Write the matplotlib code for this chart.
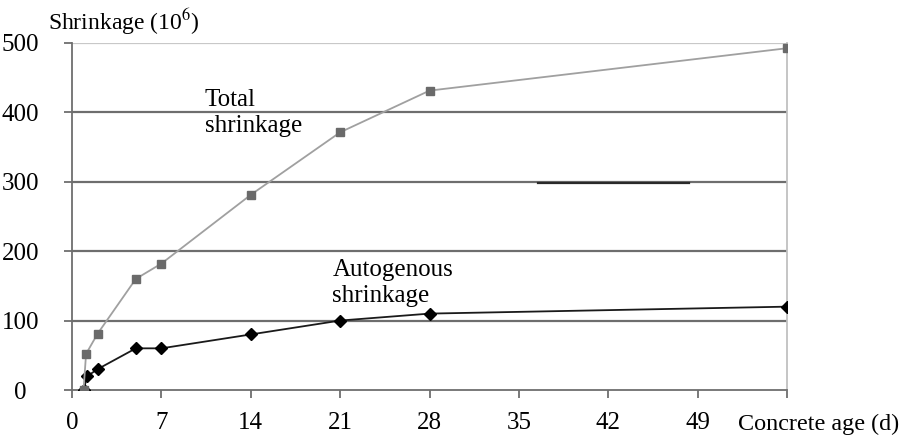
import matplotlib.pyplot as plt

plt.rcParams['font.family'] = ['Liberation Serif', 'DejaVu Serif']
plt.rcParams['mathtext.fontset'] = 'stix'

# data
total_days = [0.9, 1.1, 2, 5, 7, 14, 21, 28, 56]
total_vals = [0, 52, 81, 160, 182, 281, 371, 431, 492]
auto_days = [0.9, 1.2, 2, 5, 7, 14, 21, 28, 56]
auto_vals = [0, 20, 30, 60, 60, 80, 100, 110, 120]
x_ticks = [0, 7, 14, 21, 28, 35, 42, 49, 56]
x_labels = ['0', '7', '14', '21', '28', '35', '42', '49', '']
y_ticks = [0, 100, 200, 300, 400, 500]

fs = 18

fig = plt.figure(figsize=(9.06, 4.4), dpi=100)
ax = fig.add_axes([0.0795, 0.1136, 0.7892, 0.7894])

for y in y_ticks[1:]:
    c = '#c8c8c8' if y == 500 else '#6e6e6e'
    ax.axhline(y, color=c, lw=1.6, zorder=1)
# stray dark segment on the 300 line
ax.plot([36.5, 48.3], [298.5, 298.5], color='#2a2a2a', lw=1.6, zorder=2)

ax.plot(auto_days, auto_vals, color='#1a1a1a', lw=1.3, marker='D',
        ms=6, mfc='black', mec='black', zorder=3)
ax.plot(total_days, total_vals, color='#a0a0a0', lw=1.3, marker='s',
        ms=6, mfc='#6a6a6a', mec='#6a6a6a', zorder=4)

ax.set_xlim(0, 56)
ax.set_ylim(0, 500)
ax.set_xticks(x_ticks)
ax.set_xticklabels(x_labels)
ax.set_yticks(y_ticks)
ax.tick_params(axis='both', labelsize=fs, color='#6e6e6e', width=1.3,
               length=6, direction='out')
ax.tick_params(axis='y', pad=31)
ax.tick_params(axis='x', pad=10)
for lab in ax.get_yticklabels():
    lab.set_ha('center')

ax.spines['top'].set_visible(False)
ax.spines['left'].set_color('#6e6e6e')
ax.spines['bottom'].set_color('#6e6e6e')
ax.spines['right'].set_color('#c0c0c0')
for s in ['left', 'bottom', 'right']:
    ax.spines[s].set_linewidth(1.3)

ax.text(10.4, 399, 'Total\nshrinkage', fontsize=fs, va='center',
        ha='left', linespacing=1.2)
ax.text(20.4, 154, 'Autogenous\nshrinkage', fontsize=fs, va='center',
        ha='left', linespacing=1.2)

fig.text(48 / 906, 1 - 22 / 440, 'Shrinkage (10$^6$)', fontsize=17,
         va='center', ha='left')
fig.text(738 / 906, 1 - 424 / 440, 'Concrete age (d)', fontsize=17.4,
         va='center', ha='left')

fig.savefig('out.png', dpi=100)
